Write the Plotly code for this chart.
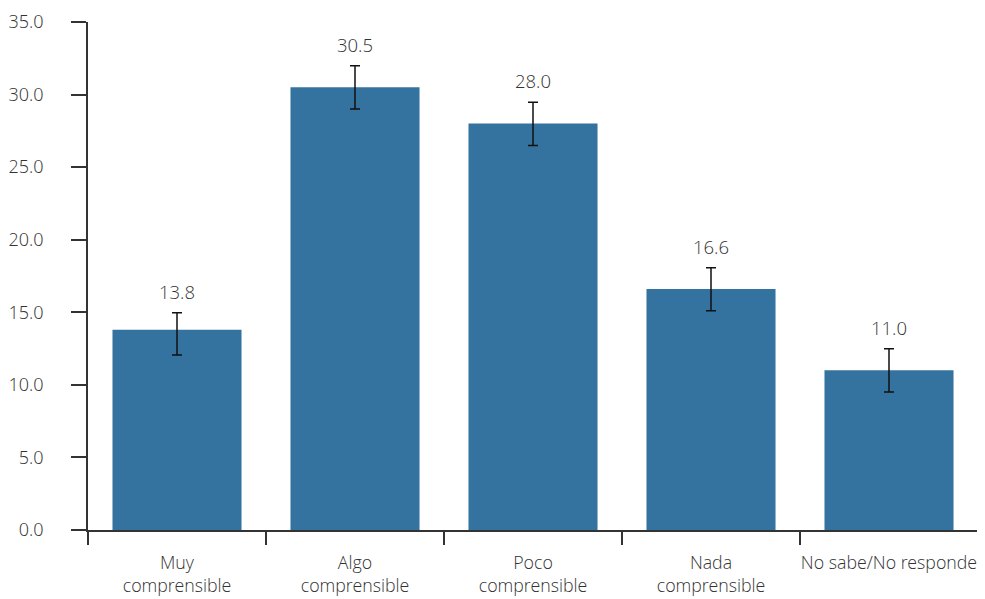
import plotly.graph_objects as go

categories = ["Muy<br>comprensible", "Algo<br>comprensible", "Poco<br>comprensible",
              "Nada<br>comprensible", "No sabe/No responde"]
values = [13.8, 30.5, 28.0, 16.6, 11.0]
errors_plus = [1.17, 1.48, 1.47, 1.46, 1.49]
errors_minus = [1.74, 1.49, 1.51, 1.49, 1.49]
value_labels = ["13.8", "30.5", "28.0", "16.6", "11.0"]
y_ticks = [0, 5, 10, 15, 20, 25, 30, 35]
y_tick_labels = ["0.0", "5.0", "10.0", "15.0", "20.0", "25.0", "30.0", "35.0"]

font_family = "Open Sans Light, Open Sans, Noto Sans, sans-serif"
text_color = "#333333"

fig = go.Figure()
fig.add_trace(go.Bar(
    x=categories, y=values,
    marker=dict(color="#34739f", line=dict(width=0)),
    error_y=dict(type="data", symmetric=False, array=errors_plus,
                 arrayminus=errors_minus, visible=True, color="#111111",
                 thickness=1.5, width=5),
    width=0.725,
    showlegend=False,
    hoverinfo="x+y",
))

for c, v, e, t in zip(categories, values, errors_plus, value_labels):
    fig.add_annotation(x=c, y=v + e, text=t, showarrow=False, yanchor="bottom",
                       yshift=7, font=dict(family=font_family, size=18.5, color=text_color))

fig.update_layout(
    width=977, height=591,
    margin=dict(l=80, r=7, t=14, b=69, autoexpand=False),
    paper_bgcolor="white", plot_bgcolor="white",
    font=dict(family=font_family, size=18, color=text_color),
    xaxis=dict(
        showline=True, linecolor="#333333", linewidth=1.5,
        ticks="outside", tickson="boundaries", ticklen=13, tickwidth=1.5,
        tickcolor="#333333", range=[-0.5, 4.5], showgrid=False,
        tickangle=0, automargin=False, ticklabelstandoff=16,
        tickfont=dict(family=font_family, size=17.8, color=text_color),
    ),
    yaxis=dict(
        range=[0, 35], tickvals=y_ticks, ticktext=y_tick_labels,
        showline=True, linecolor="#333333", linewidth=1.5,
        ticks="outside", ticklen=15, tickwidth=1.5, tickcolor="#333333",
        showgrid=False, zeroline=False, automargin=False, ticklabelstandoff=24,
        tickfont=dict(family=font_family, size=18, color=text_color),
    ),
)

fig.write_html("out.html")
